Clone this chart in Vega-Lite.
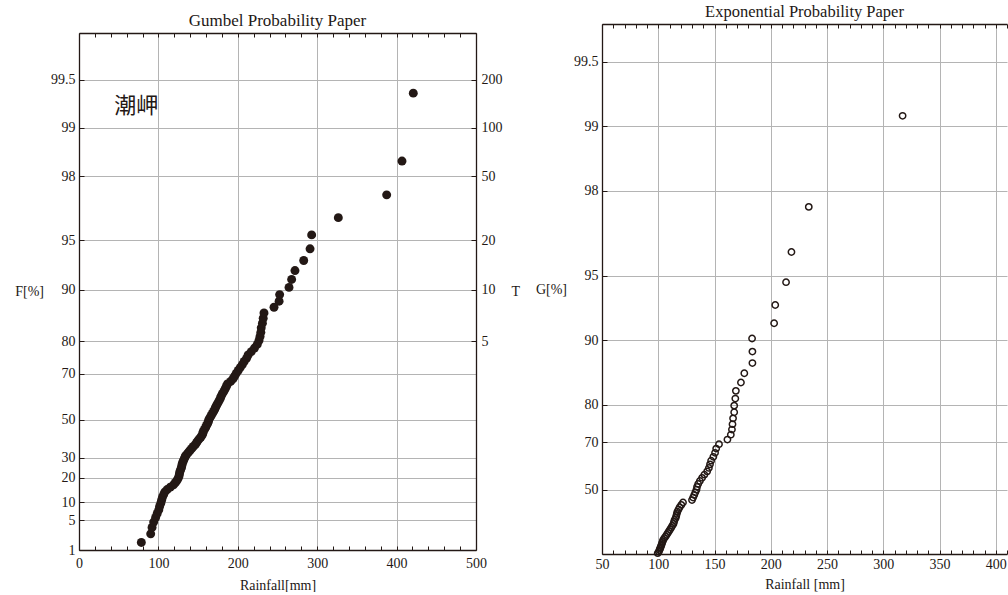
{
  "$schema": "https://vega.github.io/schema/vega-lite/v6.json",
  "padding": {"left": 14, "top": 4, "right": 0, "bottom": 0},
  "background": "white",
  "datasets": {
    "gumbel": [
      {"rainfall": 78.5, "reduced_variate": -1.4176},
      {"rainfall": 90.3, "reduced_variate": -1.2925},
      {"rainfall": 92, "reduced_variate": -1.1988},
      {"rainfall": 94, "reduced_variate": -1.122},
      {"rainfall": 96.5, "reduced_variate": -1.0558},
      {"rainfall": 98.5, "reduced_variate": -0.997},
      {"rainfall": 100.5, "reduced_variate": -0.9435},
      {"rainfall": 101.5, "reduced_variate": -0.8942},
      {"rainfall": 103, "reduced_variate": -0.8482},
      {"rainfall": 104, "reduced_variate": -0.8048},
      {"rainfall": 105, "reduced_variate": -0.7636},
      {"rainfall": 106.5, "reduced_variate": -0.7244},
      {"rainfall": 108, "reduced_variate": -0.6866},
      {"rainfall": 111, "reduced_variate": -0.6503},
      {"rainfall": 115, "reduced_variate": -0.6151},
      {"rainfall": 119, "reduced_variate": -0.5809},
      {"rainfall": 121.5, "reduced_variate": -0.5476},
      {"rainfall": 123.5, "reduced_variate": -0.5152},
      {"rainfall": 125, "reduced_variate": -0.4834},
      {"rainfall": 126, "reduced_variate": -0.4523},
      {"rainfall": 126.5, "reduced_variate": -0.4216},
      {"rainfall": 127, "reduced_variate": -0.3915},
      {"rainfall": 128, "reduced_variate": -0.3618},
      {"rainfall": 129, "reduced_variate": -0.3325},
      {"rainfall": 129.5, "reduced_variate": -0.3035},
      {"rainfall": 130, "reduced_variate": -0.2748},
      {"rainfall": 131, "reduced_variate": -0.2463},
      {"rainfall": 132, "reduced_variate": -0.2181},
      {"rainfall": 133, "reduced_variate": -0.1901},
      {"rainfall": 134, "reduced_variate": -0.1623},
      {"rainfall": 136, "reduced_variate": -0.1346},
      {"rainfall": 138, "reduced_variate": -0.107},
      {"rainfall": 140, "reduced_variate": -0.0795},
      {"rainfall": 142, "reduced_variate": -0.052},
      {"rainfall": 144, "reduced_variate": -0.0245},
      {"rainfall": 146.5, "reduced_variate": 0.0029},
      {"rainfall": 148, "reduced_variate": 0.0303},
      {"rainfall": 149.5, "reduced_variate": 0.0577},
      {"rainfall": 151.5, "reduced_variate": 0.0852},
      {"rainfall": 153.5, "reduced_variate": 0.1127},
      {"rainfall": 155, "reduced_variate": 0.1404},
      {"rainfall": 156, "reduced_variate": 0.1681},
      {"rainfall": 156.5, "reduced_variate": 0.1959},
      {"rainfall": 158, "reduced_variate": 0.2239},
      {"rainfall": 159.5, "reduced_variate": 0.2521},
      {"rainfall": 160.5, "reduced_variate": 0.2804},
      {"rainfall": 162, "reduced_variate": 0.3089},
      {"rainfall": 163, "reduced_variate": 0.3376},
      {"rainfall": 163.5, "reduced_variate": 0.3665},
      {"rainfall": 165, "reduced_variate": 0.3957},
      {"rainfall": 166.5, "reduced_variate": 0.4252},
      {"rainfall": 168, "reduced_variate": 0.455},
      {"rainfall": 169.5, "reduced_variate": 0.4851},
      {"rainfall": 171, "reduced_variate": 0.5157},
      {"rainfall": 172, "reduced_variate": 0.5466},
      {"rainfall": 173.5, "reduced_variate": 0.5778},
      {"rainfall": 175, "reduced_variate": 0.6095},
      {"rainfall": 176.5, "reduced_variate": 0.6417},
      {"rainfall": 178, "reduced_variate": 0.6743},
      {"rainfall": 179, "reduced_variate": 0.7076},
      {"rainfall": 180.5, "reduced_variate": 0.7413},
      {"rainfall": 182.5, "reduced_variate": 0.7757},
      {"rainfall": 184, "reduced_variate": 0.8108},
      {"rainfall": 185.5, "reduced_variate": 0.8465},
      {"rainfall": 187, "reduced_variate": 0.8829},
      {"rainfall": 191, "reduced_variate": 0.92},
      {"rainfall": 194, "reduced_variate": 0.9583},
      {"rainfall": 196, "reduced_variate": 0.9972},
      {"rainfall": 198, "reduced_variate": 1.0373},
      {"rainfall": 200.5, "reduced_variate": 1.0785},
      {"rainfall": 203, "reduced_variate": 1.1209},
      {"rainfall": 205.7, "reduced_variate": 1.1645},
      {"rainfall": 208, "reduced_variate": 1.2094},
      {"rainfall": 211, "reduced_variate": 1.2553},
      {"rainfall": 213, "reduced_variate": 1.3034},
      {"rainfall": 217, "reduced_variate": 1.3529},
      {"rainfall": 221, "reduced_variate": 1.4041},
      {"rainfall": 224.5, "reduced_variate": 1.4576},
      {"rainfall": 226.7, "reduced_variate": 1.5136},
      {"rainfall": 228, "reduced_variate": 1.5721},
      {"rainfall": 229, "reduced_variate": 1.6332},
      {"rainfall": 229.5, "reduced_variate": 1.6977},
      {"rainfall": 231, "reduced_variate": 1.7655},
      {"rainfall": 232, "reduced_variate": 1.8376},
      {"rainfall": 233, "reduced_variate": 1.9146},
      {"rainfall": 245.6, "reduced_variate": 1.9966},
      {"rainfall": 252, "reduced_variate": 2.0846},
      {"rainfall": 252.7, "reduced_variate": 2.1803},
      {"rainfall": 264.5, "reduced_variate": 2.285},
      {"rainfall": 267.8, "reduced_variate": 2.4003},
      {"rainfall": 272, "reduced_variate": 2.5294},
      {"rainfall": 283, "reduced_variate": 2.6758},
      {"rainfall": 291, "reduced_variate": 2.8454},
      {"rainfall": 293, "reduced_variate": 3.0474},
      {"rainfall": 326.6, "reduced_variate": 3.2976},
      {"rainfall": 387.5, "reduced_variate": 3.6283},
      {"rainfall": 406.8, "reduced_variate": 4.119},
      {"rainfall": 421, "reduced_variate": 5.1051}
    ],
    "exceedance": [
      {"rainfall": 99.5, "exp_variate": 0.00897},
      {"rainfall": 100.5, "exp_variate": 0.0241},
      {"rainfall": 101, "exp_variate": 0.03946},
      {"rainfall": 101.5, "exp_variate": 0.05506},
      {"rainfall": 102, "exp_variate": 0.0709},
      {"rainfall": 102.5, "exp_variate": 0.08701},
      {"rainfall": 103, "exp_variate": 0.10338},
      {"rainfall": 103.5, "exp_variate": 0.12001},
      {"rainfall": 104, "exp_variate": 0.13694},
      {"rainfall": 104.5, "exp_variate": 0.15415},
      {"rainfall": 105.5, "exp_variate": 0.17166},
      {"rainfall": 106.5, "exp_variate": 0.18949},
      {"rainfall": 107.5, "exp_variate": 0.20764},
      {"rainfall": 108.5, "exp_variate": 0.22612},
      {"rainfall": 109.5, "exp_variate": 0.24496},
      {"rainfall": 110.5, "exp_variate": 0.26415},
      {"rainfall": 111.5, "exp_variate": 0.28372},
      {"rainfall": 112.5, "exp_variate": 0.30368},
      {"rainfall": 113.5, "exp_variate": 0.32405},
      {"rainfall": 114, "exp_variate": 0.34484},
      {"rainfall": 114.5, "exp_variate": 0.36607},
      {"rainfall": 115.5, "exp_variate": 0.38776},
      {"rainfall": 116, "exp_variate": 0.40994},
      {"rainfall": 116.5, "exp_variate": 0.43261},
      {"rainfall": 117, "exp_variate": 0.45582},
      {"rainfall": 118, "exp_variate": 0.47957},
      {"rainfall": 119, "exp_variate": 0.5039},
      {"rainfall": 120.5, "exp_variate": 0.52884},
      {"rainfall": 122, "exp_variate": 0.55442},
      {"rainfall": 130, "exp_variate": 0.58067},
      {"rainfall": 131, "exp_variate": 0.60763},
      {"rainfall": 132, "exp_variate": 0.63532},
      {"rainfall": 133, "exp_variate": 0.66382},
      {"rainfall": 134, "exp_variate": 0.69314},
      {"rainfall": 134.5, "exp_variate": 0.72336},
      {"rainfall": 135.5, "exp_variate": 0.75451},
      {"rainfall": 137, "exp_variate": 0.78667},
      {"rainfall": 139, "exp_variate": 0.8199},
      {"rainfall": 141, "exp_variate": 0.85426},
      {"rainfall": 143.5, "exp_variate": 0.88985},
      {"rainfall": 145, "exp_variate": 0.92676},
      {"rainfall": 146, "exp_variate": 0.96508},
      {"rainfall": 147, "exp_variate": 1.00492},
      {"rainfall": 149, "exp_variate": 1.04642},
      {"rainfall": 150.5, "exp_variate": 1.08972},
      {"rainfall": 151.5, "exp_variate": 1.13498},
      {"rainfall": 154, "exp_variate": 1.18238},
      {"rainfall": 161.5, "exp_variate": 1.23214},
      {"rainfall": 164.5, "exp_variate": 1.28451},
      {"rainfall": 165.5, "exp_variate": 1.33977},
      {"rainfall": 166, "exp_variate": 1.39827},
      {"rainfall": 166.5, "exp_variate": 1.4604},
      {"rainfall": 167.5, "exp_variate": 1.52665},
      {"rainfall": 167.5, "exp_variate": 1.5976},
      {"rainfall": 168.5, "exp_variate": 1.67397},
      {"rainfall": 169, "exp_variate": 1.75666},
      {"rainfall": 173.5, "exp_variate": 1.84682},
      {"rainfall": 176.5, "exp_variate": 1.94591},
      {"rainfall": 183.7, "exp_variate": 2.05591},
      {"rainfall": 183.7, "exp_variate": 2.17952},
      {"rainfall": 183.4, "exp_variate": 2.3206},
      {"rainfall": 203, "exp_variate": 2.4849},
      {"rainfall": 204, "exp_variate": 2.68161},
      {"rainfall": 213.6, "exp_variate": 2.92674},
      {"rainfall": 218.4, "exp_variate": 3.25216},
      {"rainfall": 233.8, "exp_variate": 3.73767},
      {"rainfall": 317.2, "exp_variate": 4.7185}
    ]
  },
  "hconcat": [
    {
      "vconcat": [
        {
          "width": 10,
          "height": 1,
          "data": {"values": []},
          "mark": "point",
          "encoding": {}
        },
        {
          "width": 397,
          "height": 517,
          "title": {"text": "Gumbel Probability Paper", "fontSize": 17},
          "layer": [
            {
              "data": {"name": "gumbel"},
              "mark": {"type": "circle", "size": 80, "color": "#231815", "opacity": 1},
              "encoding": {
                "x": {
                  "field": "rainfall", "type": "quantitative",
                  "scale": {"domain": [0, 500], "nice": false, "zero": false},
                  "axis": {
                    "orient": "bottom",
                    "values": [0, 20, 40, 60, 80, 100, 120, 140, 160, 180, 200, 220, 240, 260, 280, 300, 320, 340, 360, 380, 400, 420, 440, 460, 480, 500],
                    "labelExpr": "datum.value % 100 === 0 ? datum.label : ''",
                    "tickSize": -4,
                    "labelPadding": 10,
                    "grid": true,
                    "gridOpacity": {"condition": {"test": "datum.value % 100 === 0", "value": 1}, "value": 0},
                    "title": "Rainfall[mm]",
                    "titlePadding": 8
                  }
                },
                "y": {
                  "field": "reduced_variate", "type": "quantitative",
                  "scale": {"domain": [-1.52718, 5.978], "nice": false, "zero": false},
                  "axis": {
                    "orient": "left",
                    "values": [5.295812, 4.600149, 3.901939, 2.970195, 2.250367, 1.49994, 1.03093, 0.366513, -0.18563, -0.47588, -0.834032, -1.097189, -1.52718],
                    "labelExpr": "'' + round(1000 * exp(-exp(-datum.value))) / 10",
                    "tickSize": -5,
                    "labelPadding": 9,
                    "grid": true,
                    "title": "F[%]",
                    "titleAngle": 0,
                    "titleAlign": "right",
                    "titleBaseline": "middle",
                    "titlePadding": 7
                  }
                }
              }
            },
            {
              "data": {"values": [{"station": "潮岬", "rainfall": 72, "reduced_variate": 4.92}]},
              "mark": {"type": "text", "font": "Noto Sans CJK JP", "fontSize": 22, "color": "#231815"},
              "encoding": {
                "text": {"field": "station"},
                "x": {
                  "field": "rainfall", "type": "quantitative",
                  "scale": {"domain": [0, 500], "nice": false, "zero": false},
                  "axis": {
                    "orient": "top",
                    "values": [0, 20, 40, 60, 80, 100, 120, 140, 160, 180, 200, 220, 240, 260, 280, 300, 320, 340, 360, 380, 400, 420, 440, 460, 480, 500],
                    "labels": false,
                    "tickSize": -4,
                    "grid": false,
                    "title": null
                  }
                },
                "y": {
                  "field": "reduced_variate", "type": "quantitative",
                  "scale": {"domain": [-1.52718, 5.978], "nice": false, "zero": false},
                  "axis": {
                    "orient": "right",
                    "values": [5.295812, 4.600149, 3.901939, 2.970195, 2.250367, 1.49994],
                    "labelExpr": "'' + round(1 / (1 - exp(-exp(-datum.value))))",
                    "tickSize": -5,
                    "labelPadding": 10,
                    "grid": false,
                    "title": "T",
                    "titleAngle": 0,
                    "titleAlign": "left",
                    "titleBaseline": "middle",
                    "titlePadding": 9
                  }
                }
              }
            }
          ],
          "resolve": {"axis": {"x": "independent", "y": "independent"}}
        }
      ],
      "spacing": 8,
      "bounds": "flush"
    },
    {
      "width": 405,
      "height": 530,
      "title": {"text": "Exponential Probability Paper", "fontSize": 16.5},
      "layer": [
        {
          "data": {"name": "exceedance"},
          "mark": {"type": "point", "shape": "circle", "filled": false, "size": 40, "strokeWidth": 1.5, "color": "#231815", "opacity": 1},
          "encoding": {
            "x": {
              "field": "rainfall", "type": "quantitative",
              "scale": {"domain": [50, 410], "nice": false, "zero": false},
              "axis": {
                "orient": "bottom",
                "values": [50, 60, 70, 80, 90, 100, 110, 120, 130, 140, 150, 160, 170, 180, 190, 200, 210, 220, 230, 240, 250, 260, 270, 280, 290, 300, 310, 320, 330, 340, 350, 360, 370, 380, 390, 400, 410],
                "labelExpr": "datum.value % 50 === 0 ? datum.label : ''",
                "tickSize": -4,
                "labelPadding": 7,
                "grid": true,
                "gridOpacity": {"condition": {"test": "datum.value % 50 === 0", "value": 1}, "value": 0},
                "title": "Rainfall [mm]",
                "titlePadding": 6
              }
            },
            "y": {
              "field": "exp_variate", "type": "quantitative",
              "scale": {"domain": [0, 5.707], "nice": false, "zero": false},
              "axis": {
                "orient": "left",
                "values": [5.298317, 4.60517, 3.912023, 2.995732, 2.302585, 1.609438, 1.203973, 0.693147],
                "labelExpr": "'' + round(1000 * (1 - exp(-datum.value))) / 10",
                "tickSize": -5,
                "labelPadding": 9,
                "grid": true,
                "title": "G[%]",
                "titleAngle": 0,
                "titleAlign": "right",
                "titleBaseline": "middle",
                "titlePadding": 7
              }
            }
          }
        },
        {
          "data": {"values": []},
          "mark": "point",
          "encoding": {
            "x": {
              "field": "rainfall", "type": "quantitative",
              "scale": {"domain": [50, 410], "nice": false, "zero": false},
              "axis": {
                "orient": "top",
                "values": [50, 60, 70, 80, 90, 100, 110, 120, 130, 140, 150, 160, 170, 180, 190, 200, 210, 220, 230, 240, 250, 260, 270, 280, 290, 300, 310, 320, 330, 340, 350, 360, 370, 380, 390, 400, 410],
                "labels": false,
                "tickSize": -4,
                "grid": false,
                "title": null
              }
            }
          }
        }
      ],
      "resolve": {"axis": {"x": "independent"}}
    }
  ],
  "spacing": 15,
  "config": {
    "font": "Liberation Serif",
    "view": {"stroke": null},
    "axis": {
      "labelFont": "Liberation Serif",
      "labelFontSize": 14,
      "labelColor": "#231815",
      "titleFont": "Liberation Serif",
      "titleFontSize": 14,
      "titleFontWeight": "normal",
      "titleColor": "#231815",
      "domainColor": "#231815",
      "domainWidth": 1.3,
      "tickColor": "#231815",
      "tickWidth": 1,
      "gridColor": "#b4b4b4",
      "gridWidth": 1,
      "labelFlush": false,
      "labelOverlap": false
    },
    "title": {
      "font": "Liberation Serif",
      "fontSize": 16,
      "fontWeight": "normal",
      "color": "#231815",
      "offset": 3
    }
  }
}
